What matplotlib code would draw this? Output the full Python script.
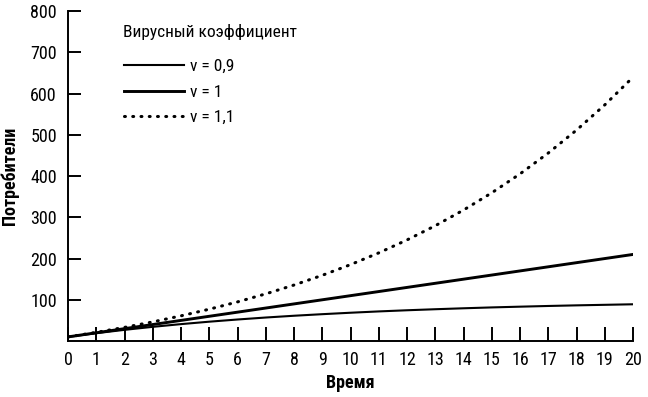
import matplotlib
matplotlib.use("Agg")
import matplotlib.pyplot as plt

# values
time = list(range(0, 21))
v09 = [10, 19, 27.1, 34.4, 41.0, 46.9, 52.2, 57.0, 61.3, 65.1, 68.6,
       71.8, 74.6, 77.1, 79.4, 81.5, 83.3, 85.0, 86.5, 87.8, 89.1]
v10 = [10, 20, 30, 40, 50, 60, 70, 80, 90, 100, 110,
       120, 130, 140, 150, 160, 170, 180, 190, 200, 210]
v11 = [10, 21, 33.1, 46.4, 61.1, 77.2, 94.9, 114.4, 135.8, 159.4, 185.3,
       213.8, 245.2, 279.7, 317.7, 359.5, 405.4, 456.0, 511.6, 572.8, 640.0]
series_labels = ["v = 0,9", "v = 1", "v = 1,1"]
yticks = [100, 200, 300, 400, 500, 600, 700, 800]

plt.rcParams["font.family"] = ["Roboto Condensed", "DejaVu Sans"]

fig = plt.figure(figsize=(6.48, 3.97), dpi=100)
ax = fig.add_axes([0.105, 0.141, 0.872, 0.831])

ax.plot(time, v09, color="black", lw=1.5, label=series_labels[0])
ax.plot(time, v10, color="black", lw=2.1, label=series_labels[1])
ax.plot(time, v11, color="black", lw=2.2, linestyle=(0, (0.3, 2.4)),
        dash_capstyle="round", label=series_labels[2])

ax.set_xlim(0, 20)
ax.set_ylim(0, 800)
ax.set_xticks(time)
ax.set_yticks(yticks)
ax.tick_params(axis="both", direction="in", width=1.4, labelsize=13,
               colors="black")
ax.tick_params(axis="x", length=10, pad=7)
ax.tick_params(axis="y", length=9, pad=8)
for side in ("top", "right"):
    ax.spines[side].set_visible(False)
for side in ("left", "bottom"):
    ax.spines[side].set_linewidth(1.4)

ax.set_xlabel("Время", fontsize=13, fontweight="bold", labelpad=4)
ax.set_ylabel("Потребители", fontsize=13, fontweight="bold", labelpad=8)

ax.text(0.097, 0.937, "Вирусный коэффициент", transform=ax.transAxes,
        fontsize=12.5, va="center", ha="left")
ax.legend(loc="upper left", bbox_to_anchor=(0.086, 0.876), frameon=False,
          fontsize=12.5, handlelength=3.5, handletextpad=0.35,
          labelspacing=0.6, borderaxespad=0)

fig.savefig("out.png", dpi=100)
